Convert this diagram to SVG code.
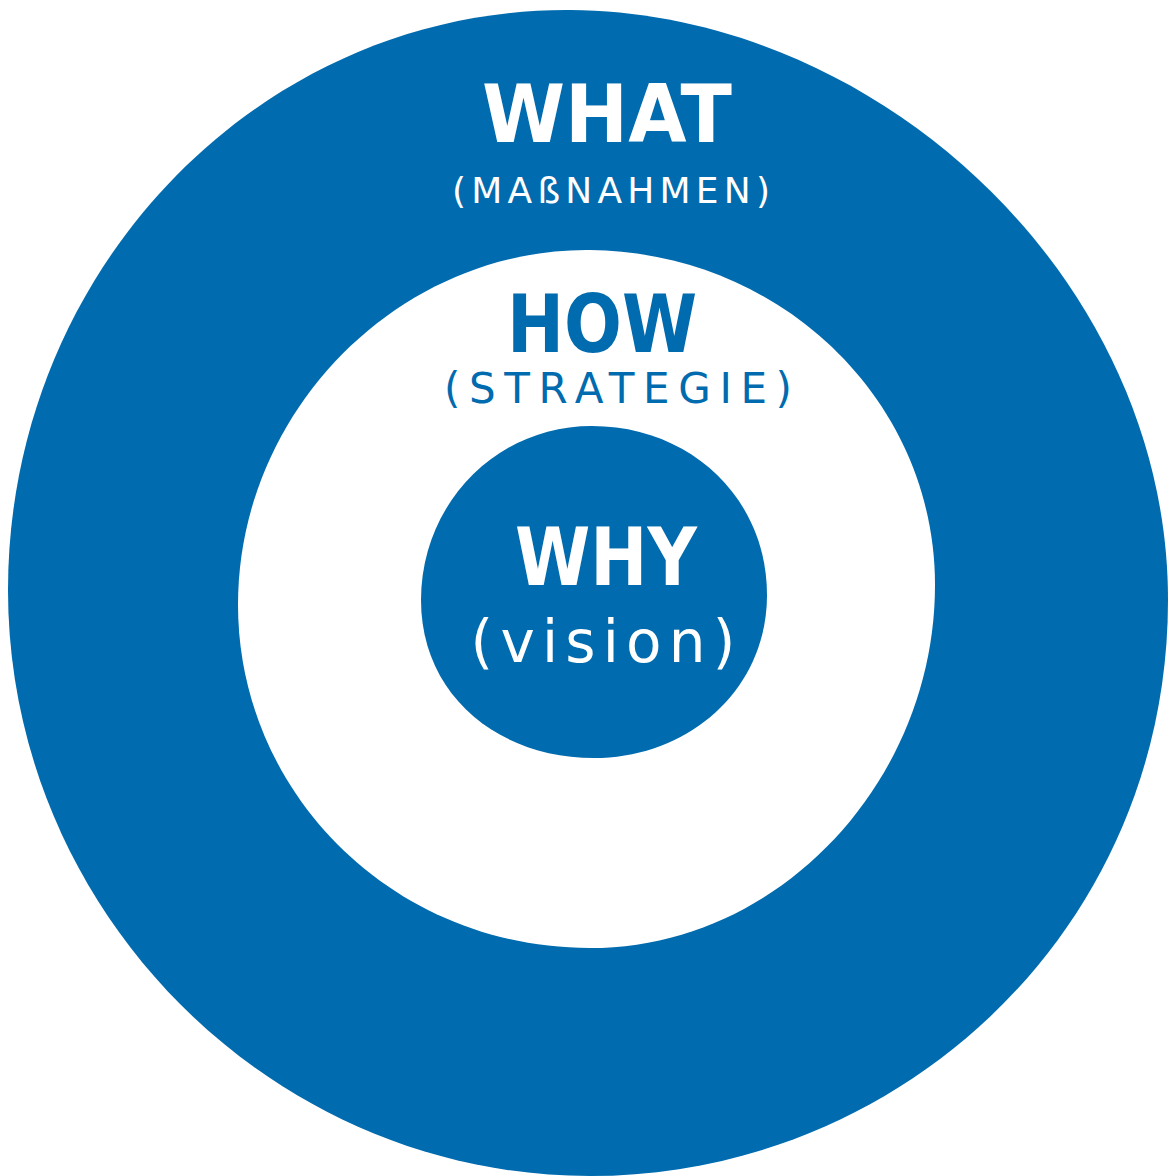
<svg xmlns="http://www.w3.org/2000/svg" width="1171" height="1176" viewBox="0 0 1171 1176">
<style>
.blue{fill:#006bae}
.white{fill:#ffffff}
.big{font-family:"DejaVu Sans",sans-serif;font-weight:bold;font-size:80px;text-anchor:middle}
.small{font-family:"DejaVu Sans",sans-serif;font-size:36px;text-anchor:middle}
.tw{fill:#ffffff}
.tb{fill:#006bae}
</style>
<rect width="1171" height="1176" fill="#ffffff"/>
<g id="what">
<path class="blue" d="M570,10 C880,12 1168,280 1168,600 C1168,930 900,1176 590,1176 C270,1176 8,910 8,590 C8,270 260,8 570,10 Z"/>
<text class="big tw" x="607" y="142" textLength="250" lengthAdjust="spacingAndGlyphs">WHAT</text>
<text class="small tw" x="611" y="203" textLength="318" lengthAdjust="spacing">(MAßNAHMEN)</text>
</g>
<g id="how">
<path class="white" d="M590,250 C780,252 935,400 935,585 C935,780 780,948 590,948 C390,948 238,790 238,605 C238,410 400,248 590,250 Z"/>
<text class="big tb" x="602" y="352" textLength="190" lengthAdjust="spacingAndGlyphs">HOW</text>
<text class="small tb" x="618" y="403" style="font-size:42px" textLength="348" lengthAdjust="spacing">(STRATEGIE)</text>
</g>
<g id="why">
<path class="blue" d="M592,426 C690,426 767,498 767,595 C767,690 688,758 594,758 C498,758 421,695 421,600 C421,505 495,426 592,426 Z"/>
<text class="big tw" x="606" y="585" textLength="182" lengthAdjust="spacingAndGlyphs">WHY</text>
<text class="small tw" x="603" y="662" style="font-size:58px" textLength="265" lengthAdjust="spacing">(vision)</text>
</g>
</svg>
